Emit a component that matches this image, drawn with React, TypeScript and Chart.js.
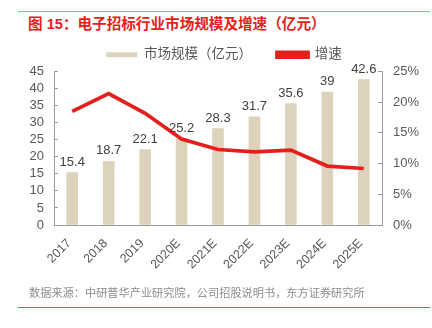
import React, { useEffect, useRef } from "react";
import { Chart, registerables } from "chart.js";

Chart.register(...registerables);

const categories = ["2017", "2018", "2019", "2020E", "2021E", "2022E", "2023E", "2024E", "2025E"];
const marketSize = [15.4, 18.7, 22.1, 25.2, 28.3, 31.7, 35.6, 39, 42.6];
const growthRate = [18.5, 21.4, 18.2, 14.0, 12.3, 11.9, 12.2, 9.6, 9.2];
const leftTicks = [0, 5, 10, 15, 20, 25, 30, 35, 40, 45];
const rightTicks = ["0%", "5%", "10%", "15%", "20%", "25%"];

const titleText = "图 15：电子招标行业市场规模及增速（亿元）";
const sourceText = "数据来源：中研普华产业研究院，公司招股说明书，东方证券研究所";
const seriesNames = ["市场规模（亿元）", "增速"];

const FONT = '"Liberation Sans", "Noto Sans CJK SC", Arial, sans-serif';
const BAR_COLOR = "#DDD3BC";
const LINE_COLOR = "#E3201B";
const AXIS_COLOR = "#9A9A9A";
const TEXT_COLOR = "#595959";

const barLabelPlugin = {
  id: "barLabels",
  afterDraw(chart: any) {
    const ctx = chart.ctx;
    const meta = chart.getDatasetMeta(0);
    ctx.save();
    ctx.font = `13px ${FONT}`;
    ctx.fillStyle = "#404040";
    ctx.textAlign = "center";
    ctx.textBaseline = "bottom";
    meta.data.forEach((el: any, i: number) => {
      ctx.fillText(String(marketSize[i]), el.x, el.y - 4);
    });
    ctx.restore();
  },
};

export default function App() {
  const ref = useRef<HTMLCanvasElement | null>(null);

  useEffect(() => {
    document.body.style.margin = "0";
    const canvas = ref.current;
    if (!canvas) return;
    const chart = new Chart(canvas, {
      type: "bar",
      data: {
        labels: categories,
        datasets: [
          {
            type: "bar",
            label: seriesNames[0],
            data: marketSize,
            backgroundColor: BAR_COLOR,
            borderWidth: 0,
            barThickness: 11,
            yAxisID: "y",
            order: 1,
          } as any,
          {
            type: "line",
            label: seriesNames[1],
            data: growthRate,
            borderColor: LINE_COLOR,
            backgroundColor: LINE_COLOR,
            borderWidth: 3.7,
            pointRadius: 0,
            tension: 0,
            yAxisID: "y1",
            order: 0,
          } as any,
        ],
      },
      options: {
        animation: false,
        responsive: false,
        maintainAspectRatio: false,
        layout: { padding: { top: 23, left: 16, right: 0, bottom: 0 } },
        plugins: {
          tooltip: { enabled: false },
          legend: {
            display: true,
            position: "top",
            labels: {
              sort: (a: any, b: any) => a.datasetIndex - b.datasetIndex,
              boxWidth: 31,
              boxHeight: 5,
              padding: 25,
              color: TEXT_COLOR,
              font: { family: FONT, size: 13.5 },
            },
          },
        },
        scales: {
          x: {
            grid: { display: false, drawTicks: false },
            border: { display: true, color: AXIS_COLOR, width: 1 },
            ticks: {
              color: TEXT_COLOR,
              font: { family: FONT, size: 12.5 },
              maxRotation: 45,
              minRotation: 45,
              padding: 11,
              labelOffset: -3,
            },
            afterFit: (s: any) => {
              s.height = 103;
            },
          },
          y: {
            position: "left",
            min: 0,
            max: 45,
            grid: { display: true, drawOnChartArea: false, drawTicks: true, tickLength: -4, color: AXIS_COLOR },
            border: { display: true, color: AXIS_COLOR, width: 1 },
            ticks: {
              stepSize: 5,
              autoSkip: false,
              color: TEXT_COLOR,
              font: { family: FONT, size: 13 },
              padding: 14,
              callback: (v: any) => (leftTicks.includes(Number(v)) ? String(v) : ""),
            },
            afterFit: (s: any) => {
              s.width = 38;
            },
          },
          y1: {
            position: "right",
            min: 0,
            max: 25,
            grid: { display: true, drawOnChartArea: false, drawTicks: true, tickLength: -4, color: AXIS_COLOR },
            border: { display: true, color: AXIS_COLOR, width: 1 },
            ticks: {
              stepSize: 5,
              autoSkip: false,
              color: TEXT_COLOR,
              font: { family: FONT, size: 13 },
              padding: 15,
              callback: (v: any) => rightTicks[Math.round(Number(v) / 5)] ?? "",
            },
            afterFit: (s: any) => {
              s.width = 50;
            },
          },
        },
      },
      plugins: [barLabelPlugin],
    });
    return () => chart.destroy();
  }, []);

  return (
    <div style={{ position: "relative", width: 432, height: 328, background: "#fff", overflow: "hidden" }}>
      <div style={{ position: "absolute", left: 18, top: 11, width: 412, height: 1, background: "#EE8A86" }} />
      <div
        style={{
          position: "absolute",
          left: 28,
          top: 15,
          fontFamily: FONT,
          fontSize: 14.6,
          fontWeight: "bold",
          color: "#E2231A",
          whiteSpace: "nowrap",
          lineHeight: "18px",
        }}
      >
        {titleText}
      </div>
      <canvas ref={ref} width={432} height={328} style={{ position: "absolute", left: 0, top: 0, width: 432, height: 328 }} />
      <div
        style={{
          position: "absolute",
          left: 29,
          top: 285,
          fontFamily: FONT,
          fontSize: 11.2,
          color: "#8C8C8C",
          whiteSpace: "nowrap",
          lineHeight: "16px",
        }}
      >
        {sourceText}
      </div>
      <div style={{ position: "absolute", left: 18, top: 307, width: 412, height: 1, background: "#D9534F" }} />
    </div>
  );
}
